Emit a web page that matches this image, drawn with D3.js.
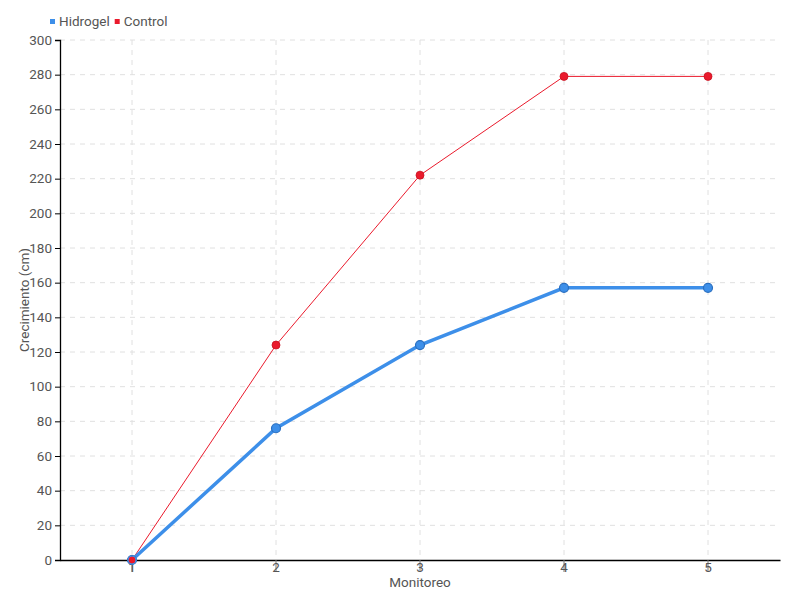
<!DOCTYPE html>
<html><head><meta charset="utf-8">
<script src="https://cdn.jsdelivr.net/npm/d3@7"></script>
<style>
body{margin:0;background:#fff;}
text{font-family:Roboto,"Liberation Sans",sans-serif;}
</style></head>
<body><svg id="c" width="800" height="600"></svg>
<script>
const categories = ["1","2","3","4","5"];
const hidrogel = [0, 76, 124, 157, 157];
const control = [0, 124, 222, 279, 279];
const yTicks = d3.range(0, 301, 20);
const seriesNames = ["Hidrogel","Control"];
const colors = ["#3d8fe9","#ea1a2c"];

const svg = d3.select("#c");
const m = {l:60, r:20, t:40, b:40};
const W = 800, H = 600;
const x = d3.scaleBand().domain(categories).range([m.l, W-m.r]).padding(0);
const y = d3.scaleLinear().domain([0,300]).range([H-m.b, m.t]);
const cx = d => x(d) + x.bandwidth()/2;

// grid
const g = svg.append("g");
g.selectAll(".hg").data(yTicks.slice(1)).join("line")
  .attr("x1", m.l).attr("x2", W-m.r).attr("y1", d=>y(d)).attr("y2", d=>y(d))
  .attr("stroke","#e0e0e0").attr("stroke-dasharray","5,5");
g.selectAll(".vg").data(categories).join("line")
  .attr("x1", cx).attr("x2", cx).attr("y1", m.t).attr("y2", H-m.b)
  .attr("stroke","#e0e0e0").attr("stroke-dasharray","5,5");

// axes
const ya = svg.append("g").attr("transform",`translate(${m.l},0)`)
  .call(d3.axisLeft(y).tickValues(yTicks).tickSize(5).tickPadding(3));
ya.select(".domain").attr("stroke","#000").attr("stroke-width",1.3);
ya.selectAll(".tick line").attr("stroke","#000");
ya.selectAll("text").attr("fill","#555").style("font-size","13.5px");

const xa = svg.append("g").attr("transform",`translate(0,${H-m.b})`)
  .call(d3.axisBottom(x).tickSize(12).tickPadding(-10).tickSizeOuter(0));
xa.select(".domain").attr("stroke","#000").attr("stroke-width",1.3);
xa.selectAll(".tick line").attr("stroke","#777");
xa.selectAll("text").attr("fill","#555").style("font-size","13.5px");

svg.append("text").attr("x", 420).attr("y", 587).attr("text-anchor","middle")
  .attr("fill","#555").style("font-size","13.5px").text("Monitoreo");
svg.append("text").attr("transform","translate(29,300) rotate(-90)").attr("text-anchor","middle")
  .attr("fill","#555").style("font-size","13.5px").text("Crecimiento (cm)");

// lines
const line = d3.line().x((d,i)=>cx(categories[i])).y(d=>y(d));
svg.append("path").datum(control).attr("d", line).attr("fill","none")
  .attr("stroke", colors[1]).attr("stroke-width",1);
svg.append("path").datum(hidrogel).attr("d", line).attr("fill","none")
  .attr("stroke", colors[0]).attr("stroke-width",3.5);

svg.selectAll(".pc").data(control).join("circle")
  .attr("cx",(d,i)=>cx(categories[i])).attr("cy",d=>y(d)).attr("r",4)
  .attr("fill",colors[1]).attr("stroke","#c8101f").attr("stroke-width",0.8);
svg.selectAll(".ph").data(hidrogel).join("circle")
  .attr("cx",(d,i)=>cx(categories[i])).attr("cy",d=>y(d)).attr("r",4.5)
  .attr("fill",colors[0]).attr("stroke","#2a6fc0").attr("stroke-width",1.2);
// red point on top at first category (as in reference)
svg.append("circle").attr("cx",cx(categories[0])).attr("cy",y(control[0])).attr("r",4)
  .attr("fill",colors[1]).attr("stroke","#3d8fe9").attr("stroke-width",1);

// legend
const lg = svg.append("g");
let lx = 50;
seriesNames.forEach((n,i)=>{
  lg.append("rect").attr("x",lx).attr("y",19).attr("width",5).attr("height",5).attr("fill",colors[i]);
  const t = lg.append("text").attr("x",lx+9).attr("y",26).attr("fill","#555").style("font-size","13.5px").text(n);
  lx += 9 + t.node().getComputedTextLength() + 5;
});
</script></body></html>
